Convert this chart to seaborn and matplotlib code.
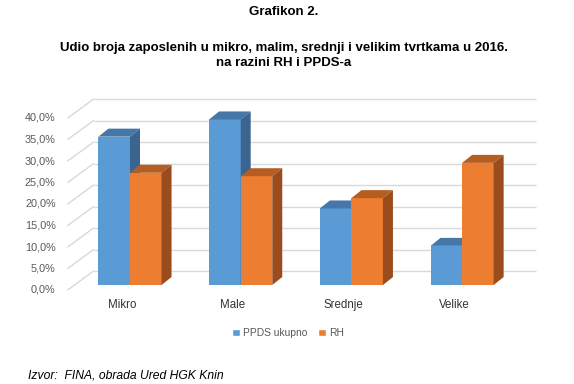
import matplotlib
matplotlib.use("Agg")
import matplotlib.pyplot as plt
import seaborn as sns
import pandas as pd
from matplotlib.patches import Polygon

categories = ["Mikro", "Male", "Srednje", "Velike"]
series_names = ["PPDS ukupno", "RH"]
ppds_values = [34.5, 38.5, 17.8, 9.1]
rh_values = [26.1, 25.3, 20.2, 28.4]
y_ticks = [0, 5, 10, 15, 20, 25, 30, 35, 40]
y_tick_labels = ["0,0%", "5,0%", "10,0%", "15,0%", "20,0%", "25,0%", "30,0%", "35,0%", "40,0%"]

front_colors = ["#5B9BD5", "#ED7D31"]
top_colors = ["#4677A8", "#B65E22"]
side_colors = ["#3A6590", "#9A4C1C"]

df = pd.DataFrame({
    "cat": categories * 2,
    "val": ppds_values + rh_values,
    "series": [series_names[0]] * 4 + [series_names[1]] * 4,
})

sns.set_theme(style="white")
plt.rcParams["font.family"] = ["Liberation Sans", "DejaVu Sans"]

W, H = 574, 384
fig = plt.figure(figsize=(W / 100, H / 100), dpi=100)

# axes geometry (pixels)
sx = 110.7   # px per category
sy = 4.3     # px per percent
x0px = 130   # px of first category centre
base_px_from_bottom = H - 285
ymax = 45
ax = fig.add_axes([0, base_px_from_bottom / H, 1, ymax * sy / H])

def px2dx(p):
    return p / sx

def px2dy(p):
    return p / sy

# depth offsets (px)
bar_d = (10, 8)
wall_d = (19, 14)
front_d = (-7, -5)

grid_c = "#D9D9D9"
for v, lab in zip(y_ticks, y_tick_labels):
    ax.plot([-0.5 + px2dx(wall_d[0]), 3.5 + px2dx(wall_d[0])],
            [v + px2dy(wall_d[1]), v + px2dy(wall_d[1])],
            color=grid_c, lw=1.0, zorder=0.5, solid_capstyle="butt")
    ax.plot([-0.5 + px2dx(front_d[0]), -0.5 + px2dx(wall_d[0])],
            [v + px2dy(front_d[1]), v + px2dy(wall_d[1])],
            color=grid_c, lw=1.0, zorder=0.5, clip_on=False)
    ax.text(-0.5 + px2dx(front_d[0] - 12), v + px2dy(front_d[1]), lab,
            ha="right", va="center", fontsize=7.8, color="#595959", clip_on=False)

sns.barplot(data=df, x="cat", y="val", hue="series", order=categories,
            hue_order=series_names, palette=front_colors, width=0.57,
            saturation=1, errorbar=None, ax=ax, legend=True)
ax.set_xlim(-x0px / sx, (W - x0px) / sx)
ax.set_ylim(0, ymax)
ax.axis("off")

handles, labels = ax.get_legend_handles_labels()
if ax.get_legend() is not None:
    ax.get_legend().remove()

dx = px2dx(bar_d[0])
dy = px2dy(bar_d[1])
for si, cont in enumerate(ax.containers):
    for p in cont.patches:
        p.set_edgecolor("none")
        p.set_linewidth(0)
        p.set_zorder(2 + si)
        bx, bw, bh = p.get_x(), p.get_width(), p.get_height()
        top = Polygon([(bx, bh), (bx + bw, bh), (bx + bw + dx, bh + dy), (bx + dx, bh + dy)],
                      closed=True, facecolor=top_colors[si], edgecolor="none", zorder=2.5 + si)
        side = Polygon([(bx + bw, 0), (bx + bw, bh), (bx + bw + dx, bh + dy), (bx + bw + dx, dy)],
                       closed=True, facecolor=side_colors[si], edgecolor="none", zorder=2.5 + si)
        ax.add_patch(top)
        ax.add_patch(side)

for i, c in enumerate(categories):
    ax.text(i + px2dx(-8), px2dy(-20), c, ha="center", va="center",
            fontsize=8.3, color="#333333", clip_on=False)

fig.legend(handles, labels, loc="center", bbox_to_anchor=(288 / W, 1 - 333 / H),
           ncol=2, frameon=False, handlelength=0.75, handleheight=0.75,
           handletextpad=0.25, columnspacing=1.1, fontsize=7.4, labelcolor="#595959",
           borderpad=0)

fig.text(284 / W, 1 - 12 / H, "Grafikon 2.", ha="center", va="center",
         fontsize=9.5, fontweight="bold", color="black")
fig.text(284 / W, 1 - 48 / H, "Udio broja zaposlenih u mikro, malim, srednji i velikim tvrtkama u 2016.",
         ha="center", va="center", fontsize=9.5, fontweight="bold", color="black")
fig.text(284 / W, 1 - 63 / H, "na razini RH i PPDS-a", ha="center", va="center",
         fontsize=9.5, fontweight="bold", color="black")
fig.text(28 / W, 1 - 375 / H, "Izvor:  FINA, obrada Ured HGK Knin", ha="left", va="center",
         fontsize=8.7, style="italic", color="black")

fig.savefig("out.png", dpi=100)
